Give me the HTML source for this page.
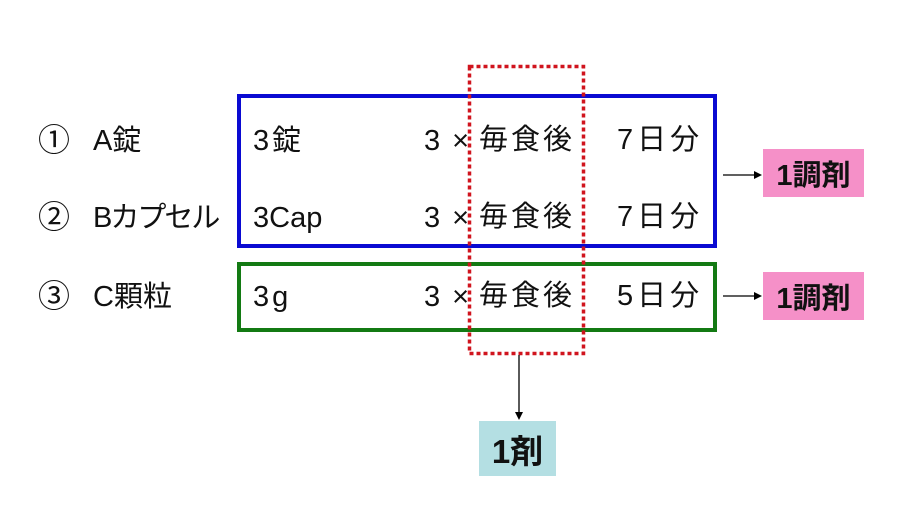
<!DOCTYPE html>
<html><head><meta charset="utf-8"><style>
body{margin:0;width:913px;height:523px;background:#fff;position:relative;overflow:hidden;font-family:"Liberation Sans","Noto Sans CJK JP",sans-serif;color:#111}
.t{position:absolute;font-size:29px;line-height:30px;white-space:nowrap}
.w{letter-spacing:3px;font-size:29px}
.c{font-size:32px}
.b{position:absolute;box-sizing:border-box}
.lab{position:absolute;font-weight:bold;font-size:29px;display:flex;align-items:center;justify-content:center;color:#111}
</style></head><body>
<div class="b" style="left:237px;top:94px;width:480px;height:154px;border:4px solid #0a0ad2"></div>
<div class="b" style="left:237px;top:262px;width:480px;height:70px;border:4px solid #137a13"></div>

<div class="t c" style="left:38px;top:125px">①</div>
<div class="t" style="left:93px;top:126px">A錠</div>
<div class="t c" style="left:38px;top:202px">②</div>
<div class="t" style="left:93px;top:203px;letter-spacing:-2px">Bカプセル</div>
<div class="t c" style="left:38px;top:281px">③</div>
<div class="t" style="left:93px;top:282px">C顆粒</div>

<div class="t" style="left:253px;top:126px;letter-spacing:3px">3錠</div>
<div class="t" style="left:253px;top:203px">3Cap</div>
<div class="t" style="left:253px;top:282px;letter-spacing:3px">3g</div>

<div class="t" style="left:424px;top:126px;letter-spacing:12px">3×</div>
<div class="t" style="left:424px;top:203px;letter-spacing:12px">3×</div>
<div class="t" style="left:424px;top:282px;letter-spacing:12px">3×</div>
<div class="t w" style="left:479px;top:125px">毎食後</div>
<div class="t w" style="left:479px;top:202px">毎食後</div>
<div class="t w" style="left:479px;top:281px">毎食後</div>
<div class="t w" style="left:617px;top:125px;letter-spacing:4px">7日分</div>
<div class="t w" style="left:617px;top:202px;letter-spacing:4px">7日分</div>
<div class="t w" style="left:617px;top:281px;letter-spacing:4px">5日分</div>

<svg style="position:absolute;left:0;top:0" width="913" height="523">
<rect x="469.5" y="66.5" width="114" height="287" fill="none" stroke="#d0141e" stroke-width="3.5" stroke-dasharray="4 3"/>
<line x1="723" y1="175" x2="755" y2="175" stroke="#000" stroke-width="1.3"/>
<polygon points="762,175 754,171 754,179" fill="#000"/>
<line x1="723" y1="296" x2="755" y2="296" stroke="#000" stroke-width="1.3"/>
<polygon points="762,296 754,292 754,300" fill="#000"/>
<line x1="519" y1="355" x2="519" y2="413" stroke="#000" stroke-width="1.3"/>
<polygon points="519,420 515,412 523,412" fill="#000"/>
</svg>

<div class="lab" style="left:763px;top:149px;width:101px;height:48px;background:#f590c8">1調剤</div>
<div class="lab" style="left:763px;top:272px;width:101px;height:48px;background:#f590c8">1調剤</div>
<div class="lab" style="left:479px;top:421px;width:77px;height:55px;background:#b4dfe3;font-size:33px">1剤</div>
</body></html>
